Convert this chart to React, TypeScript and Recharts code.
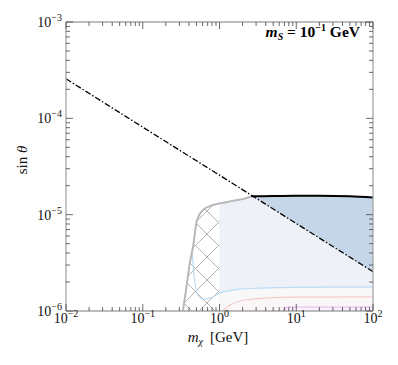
import React from 'react';
import { ComposedChart, Line, Area, XAxis, YAxis } from 'recharts';

// ---- axis ticks ----
const xMajorTicks = [0.01, 0.1, 1, 10, 100];
const yMajorTicks = [1e-6, 1e-5, 1e-4, 1e-3];
const minorMultipliers = [2, 3, 4, 5, 6, 7, 8, 9];

const buildTicks = (majors: number[]) => {
  const out: number[] = [];
  majors.forEach((m, i) => {
    out.push(m);
    if (i < majors.length - 1) minorMultipliers.forEach((k) => out.push(+(m * k).toPrecision(6)));
  });
  return out;
};
const xTicks = buildTicks(xMajorTicks);
const yTicks = buildTicks(yMajorTicks);

// ---- series ----
const dashX = [0.01, 0.1, 1, 10, 100];
const dashY = [2.57e-4, 8.1e-5, 2.57e-5, 8.1e-6, 2.56e-6];

const greyX = [0.334, 0.366, 0.413, 0.451, 0.509, 0.61, 0.822, 1.0, 1.5, 2.0, 2.6];
const greyY = [1e-6, 1.65e-6, 3.23e-6, 4.62e-6, 8.8e-6, 1.117e-5, 1.26e-5, 1.31e-5, 1.39e-5, 1.45e-5, 1.55e-5];

const blackX = [2.6, 5, 10, 20, 50, 100];
const blackY = [1.55e-5, 1.56e-5, 1.57e-5, 1.57e-5, 1.55e-5, 1.51e-5];

const darkX = [2.75, 5, 10, 20, 50, 100];
const darkLow = [1.55e-5, 1.15e-5, 8.1e-6, 5.75e-6, 3.63e-6, 2.56e-6];
const darkHigh = [1.55e-5, 1.56e-5, 1.57e-5, 1.57e-5, 1.55e-5, 1.51e-5];

const blueX = [0.438, 0.466, 0.509, 0.61, 0.751, 1.0, 1.85, 3.37, 10, 100];
const blueY = [4.3e-6, 2.36e-6, 1.54e-6, 1.33e-6, 1.36e-6, 1.53e-6, 1.69e-6, 1.73e-6, 1.76e-6, 1.77e-6];

const pinkX = [1.078, 1.455, 2.15, 3.92, 10, 100];
const pinkY = [1e-6, 1.18e-6, 1.3e-6, 1.36e-6, 1.39e-6, 1.4e-6];

const violetX = [6.7, 7.13, 8.29, 20, 100];
const violetY = [1e-6, 1.07e-6, 1.1e-6, 1.1e-6, 1.1e-6];

const zip = (xs: number[], ys: number[]) => xs.map((x, i) => ({ x, y: ys[i] }));

const dashData = zip(dashX, dashY);
const greyData = zip(greyX, greyY);
const blackData = zip(blackX, blackY);
const hatchData = greyData.filter((d) => d.x <= 1);
const upperData = [...greyData.filter((d) => d.x >= 1), ...blackData.slice(1)];
const darkData = darkX.map((x, i) => ({ x, y: [darkLow[i], darkHigh[i]] }));
const blueData = zip(blueX, blueY);
const blueFillData = blueData.filter((d) => d.x >= 1);
const pinkData = zip(pinkX, pinkY);
const violetData = zip(violetX, violetY);

const FONT = '"Liberation Serif", "DejaVu Serif", serif';
const TICK_COLOR = '#444';

const isMajor = (v: number) => Math.abs(Math.log10(v) - Math.round(Math.log10(v))) < 1e-6;
const expLabel = (v: number) => {
  const e = Math.round(Math.log10(v));
  return e < 0 ? `\u2212${-e}` : `${e}`;
};

const BottomTick = (props: any) => {
  const { x, y, payload } = props;
  const v = payload.value;
  const major = isMajor(v);
  return (
    <g>
      <line x1={x} y1={y} x2={x} y2={y - (major ? 7 : 4)} stroke={TICK_COLOR} strokeWidth={0.8} />
      {major && (
        <text x={x} y={y + 12} textAnchor="middle" fontFamily={FONT} fontSize={14} fill="#111">
          10<tspan dy={-6} fontSize={10}>{expLabel(v)}</tspan>
        </text>
      )}
    </g>
  );
};

const TopTick = (props: any) => {
  const { x, y, payload } = props;
  const major = isMajor(payload.value);
  return <line x1={x} y1={y} x2={x} y2={y + (major ? 7 : 4)} stroke={TICK_COLOR} strokeWidth={0.8} />;
};

const LeftTick = (props: any) => {
  const { x, y, payload } = props;
  const v = payload.value;
  const major = isMajor(v);
  return (
    <g>
      <line x1={x} y1={y} x2={x + (major ? 7 : 4)} y2={y} stroke={TICK_COLOR} strokeWidth={0.8} />
      {major && (
        <text x={x - 4} y={y + 5} textAnchor="end" fontFamily={FONT} fontSize={14} fill="#111">
          10<tspan dy={-6} fontSize={10}>{expLabel(v)}</tspan>
        </text>
      )}
    </g>
  );
};

const RightTick = (props: any) => {
  const { x, y, payload } = props;
  const major = isMajor(payload.value);
  return <line x1={x} y1={y} x2={x - (major ? 7 : 4)} y2={y} stroke={TICK_COLOR} strokeWidth={0.8} />;
};

const axisLine = { stroke: '#a6a6a6', strokeWidth: 1.3 };

export default function App() {
  return (
    <div style={{ position: 'absolute', left: 0, top: 0, width: 398, height: 365, background: '#fff' }}>
      <svg width={0} height={0} style={{ position: 'absolute' }}>
        <defs>
          <pattern id="hatch" patternUnits="userSpaceOnUse" width={23} height={23} x={0} y={4}>
            <line x1={0} y1={0} x2={23} y2={23} stroke="#b3b3b3" strokeWidth={1} />
            <line x1={0} y1={23} x2={23} y2={0} stroke="#b3b3b3" strokeWidth={1} />
          </pattern>
        </defs>
      </svg>
      <ComposedChart width={398} height={365} margin={{ top: 21, right: 24, bottom: 53, left: 65 }}>
        <XAxis
          xAxisId="bottom"
          dataKey="x"
          type="number"
          scale="log"
          domain={[0.01, 100]}
          allowDataOverflow
          ticks={xTicks}
          interval={0}
          height={1}
          tickSize={0}
          tickMargin={0}
          tickLine={false}
          axisLine={axisLine}
          tick={<BottomTick />}
        />
        <XAxis
          xAxisId="top"
          orientation="top"
          dataKey="x"
          type="number"
          scale="log"
          domain={[0.01, 100]}
          allowDataOverflow
          ticks={xTicks}
          interval={0}
          height={1}
          tickSize={0}
          tickMargin={0}
          tickLine={false}
          axisLine={axisLine}
          tick={<TopTick />}
        />
        <YAxis
          yAxisId="left"
          type="number"
          scale="log"
          domain={[1e-6, 1e-3]}
          allowDataOverflow
          ticks={yTicks}
          interval={0}
          width={1}
          tickSize={0}
          tickMargin={0}
          tickLine={false}
          axisLine={axisLine}
          tick={<LeftTick />}
        />
        <YAxis
          yAxisId="right"
          orientation="right"
          type="number"
          scale="log"
          domain={[1e-6, 1e-3]}
          allowDataOverflow
          ticks={yTicks}
          interval={0}
          width={1}
          tickSize={0}
          tickMargin={0}
          tickLine={false}
          axisLine={axisLine}
          tick={<RightTick />}
        />

        <Area xAxisId="bottom" yAxisId="left" data={upperData} dataKey="y" type="monotone" baseValue={1e-6}
          fill="#eef2f8" fillOpacity={1} stroke="none" isAnimationActive={false} />
        <Area xAxisId="bottom" yAxisId="left" data={blueFillData} dataKey="y" type="monotone" baseValue={1e-6}
          fill="#f8f8f9" fillOpacity={1} stroke="none" isAnimationActive={false} />
        <Area xAxisId="bottom" yAxisId="left" data={pinkData} dataKey="y" type="monotone" baseValue={1e-6}
          fill="#fbf6f7" fillOpacity={1} stroke="none" isAnimationActive={false} />
        <Area xAxisId="bottom" yAxisId="left" data={violetData} dataKey="y" type="monotone" baseValue={1e-6}
          fill="#fbf3fc" fillOpacity={1} stroke="none" isAnimationActive={false} />
        <Area xAxisId="bottom" yAxisId="left" data={hatchData} dataKey="y" type="monotone" baseValue={1e-6}
          fill="url(#hatch)" fillOpacity={1} stroke="none" isAnimationActive={false} />
        <Area xAxisId="bottom" yAxisId="left" data={darkData} dataKey="y" type="linear"
          fill="#c6d6e9" fillOpacity={1} stroke="none" isAnimationActive={false} />

        <Line xAxisId="bottom" yAxisId="left" data={blueData} dataKey="y" type="monotone" stroke="#bcdcf4"
          strokeWidth={1.2} dot={false} isAnimationActive={false} />
        <Line xAxisId="bottom" yAxisId="left" data={pinkData} dataKey="y" type="monotone" stroke="#f5cccc"
          strokeWidth={1.2} dot={false} isAnimationActive={false} />
        <Line xAxisId="bottom" yAxisId="left" data={violetData} dataKey="y" type="monotone" stroke="#e3b5ee"
          strokeWidth={1.2} dot={false} isAnimationActive={false} />

        <Line xAxisId="bottom" yAxisId="left" data={greyData} dataKey="y" type="monotone" stroke="#b8b8b8"
          strokeWidth={2} dot={false} isAnimationActive={false} />
        <Line xAxisId="bottom" yAxisId="left" data={blackData} dataKey="y" type="monotone" stroke="#000"
          strokeWidth={2} dot={false} isAnimationActive={false} />
        <Line xAxisId="bottom" yAxisId="left" data={dashData} dataKey="y" type="linear" stroke="#000"
          strokeWidth={1.3} strokeDasharray="6 2 1.5 2" dot={false} isAnimationActive={false} />

        <Line xAxisId="top" yAxisId="right" data={dashData} dataKey="y" stroke="none" dot={false}
          isAnimationActive={false} legendType="none" />
      </ComposedChart>

      <svg width={398} height={365} style={{ position: 'absolute', left: 0, top: 0, pointerEvents: 'none' }}>
        <text x={360} y={37} textAnchor="end" fontFamily={FONT} fontSize={15.5} fontWeight="bold" fill="#000">
          <tspan fontStyle="italic">m</tspan>
          <tspan fontStyle="italic" fontSize={10} dy={3}>S</tspan>
          <tspan dy={-3}> = 10</tspan>
          <tspan fontSize={10} dy={-6}>{'\u22121'}</tspan>
          <tspan dy={6}> GeV</tspan>
        </text>
        <text x={218} y={342} textAnchor="middle" fontFamily={FONT} fontSize={15} fill="#111">
          <tspan fontStyle="italic">m</tspan>
          <tspan fontStyle="italic" fontSize={10} dy={3}>{'\u03c7'}</tspan>
          <tspan dy={-3} dx={7}>[GeV]</tspan>
        </text>
        <text transform="translate(27,160) rotate(-90)" textAnchor="middle" fontFamily={FONT} fontSize={15} fill="#111">
          sin <tspan fontStyle="italic">{'\u03b8'}</tspan>
        </text>
      </svg>
    </div>
  );
}
